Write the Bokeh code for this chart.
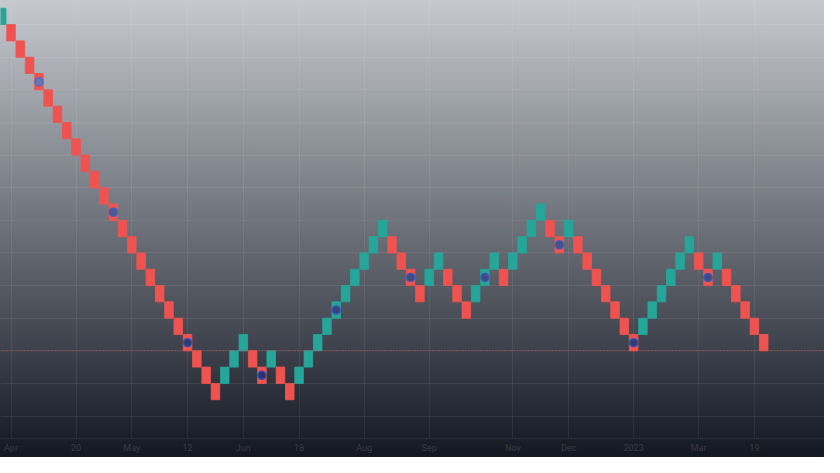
from bokeh.plotting import figure
from bokeh.models import ColumnDataSource, FixedTicker, SingleIntervalTicker, Span
from bokeh.embed import file_html
from bokeh.resources import INLINE

# ---- data (brick units; level 0 = last close) ----
brick_low = [20,
             19, 18, 17, 16, 15, 14, 13, 12, 11, 10, 9, 8, 7, 6, 5, 4, 3, 2, 1, 0, -1, -2, -3,
             -2, -1, 0,
             -1, -2,
             -1,
             -2, -3,
             -2, -1, 0, 1, 2, 3, 4, 5, 6, 7,
             6, 5, 4, 3,
             4, 5,
             4, 3, 2,
             3, 4, 5,
             4,
             5, 6, 7, 8,
             7, 6,
             7,
             6, 5, 4, 3, 2, 1, 0,
             1, 2, 3, 4, 5, 6,
             5, 4,
             5,
             4, 3, 2, 1, 0]
brick_dir = ("U" + "D" * 23 + "UUU" + "DD" + "U" + "DD" + "U" * 10 + "DDDD" + "UU" +
             "DDD" + "UUU" + "D" + "UUUU" + "DD" + "U" + "D" * 7 + "U" * 6 + "DD" + "U" + "D" * 5)
marker_cols = [4, 12, 20, 28, 36, 44, 52, 60, 68, 76]
last_close = 0
tick_pos = [1, 8, 14, 20, 26, 32, 39, 46, 55, 61, 68, 75, 81]
tick_labels = ["Apr", "20", "May", "12", "Jun", "18", "Aug", "Sep", "Nov", "Dec", "2023", "Mar", "19"]

UP = "#26a69a"
DOWN = "#ef5350"
TOP_BG = (198, 201, 207)
BOT_BG = (19, 23, 34)

W, H, AXIS_H = 824, 457, 19

def bg_at(frac):
    return [int(round(a + (b - a) * frac)) for a, b in zip(TOP_BG, BOT_BG)]

def mix(c1, c2, t):
    return "#%02x%02x%02x" % tuple(int(round(a + (b - a) * t)) for a, b in zip(c1, c2))

idx = list(range(len(brick_low)))
cols = [UP if d == "U" else DOWN for d in brick_dir]
src = ColumnDataSource(dict(
    left=[i - 0.46 for i in idx], right=[i + 0.46 for i in idx],
    bottom=brick_low, top=[b + 1 for b in brick_low], color=cols))

y0, y1 = -5.376, 21.476
p = figure(width=W, height=H, x_range=(-0.13, 88.54), y_range=(y0, y1),
           output_backend="svg", toolbar_location=None, min_border=0,
           min_border_bottom=AXIS_H,
           background_fill_alpha=0, border_fill_alpha=0, outline_line_color=None,
           styles={"background": "linear-gradient(180deg, #c6c9cf 0%, #131722 100%)"})

p.quad(left="left", right="right", bottom="bottom", top="top", source=src,
       fill_color="color", line_color="color", line_alpha=0.85, line_width=1)

# markers
NAVY = (25, 45, 160)
RING = (45, 85, 220)
mx, my, mfill, mline = [], [], [], []
for c in marker_cols:
    yc = brick_low[c] + 0.5
    frac = (y1 - yc) / (y1 - y0) * (H - AXIS_H) / H
    bg = bg_at(frac)
    mx.append(c)
    my.append(yc)
    mfill.append(mix(bg, NAVY, 0.4))
    mline.append(mix(bg, RING, 0.75))
p.scatter(x=mx, y=my, size=8, fill_color=mfill, line_color=mline, line_width=1.5)

p.add_layout(Span(location=last_close, dimension="width", line_color=DOWN,
                  line_alpha=0.7, line_dash="1 2", line_width=1))

p.yaxis.visible = False
p.ygrid.ticker = SingleIntervalTicker(interval=2)
p.xaxis.ticker = FixedTicker(ticks=tick_pos)
p.xaxis.major_label_overrides = {t: l for t, l in zip(tick_pos, tick_labels)}
p.xaxis.major_tick_out = 0
p.xaxis.major_tick_in = 0
p.xaxis.minor_tick_out = 0
p.xaxis.minor_tick_in = 0
p.xaxis.major_label_standoff = 4
p.xaxis.axis_line_color = "#2a2e39"
p.xaxis.major_label_text_color = "#363a45"
p.xaxis.major_label_text_font = "Roboto"
p.xaxis.major_label_text_font_size = "9px"
p.xgrid.grid_line_color = "white"
p.xgrid.grid_line_alpha = 0.07
p.ygrid.grid_line_color = "white"
p.ygrid.grid_line_alpha = 0.07

open("out.html", "w").write(file_html(p, INLINE))
